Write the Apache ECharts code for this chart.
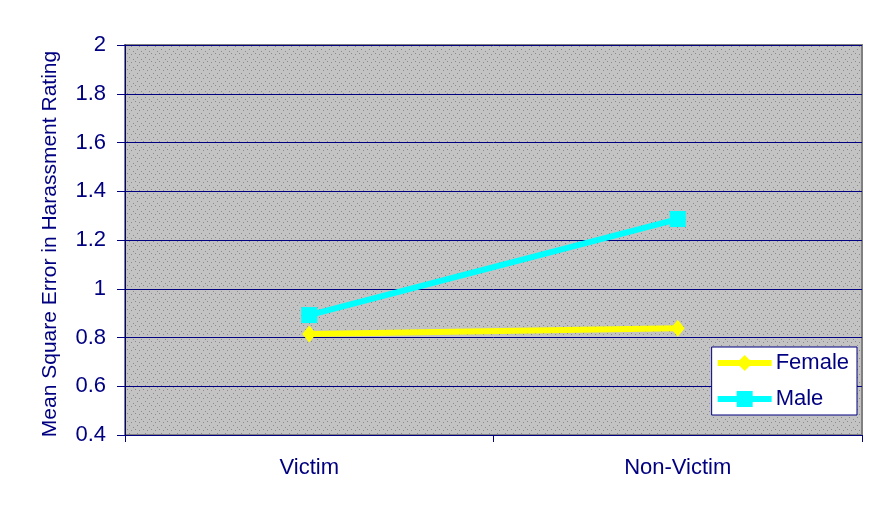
<!DOCTYPE html>
<html><head><meta charset="utf-8">
<script src="https://cdn.jsdelivr.net/npm/echarts@6/dist/echarts.min.js"></script>
<style>html,body{margin:0;padding:0;background:#fff}#c{width:893px;height:515px}</style>
</head><body><div id="c"></div>
<script>
var categories = ['Victim', 'Non-Victim'];
var femaleValues = [0.814, 0.838];
var maleValues = [0.892, 1.286];
var yTicks = { min: 0.4, max: 2, interval: 0.2 };

// dotted grey texture
var pc = document.createElement('canvas');
pc.width = 8; pc.height = 8;
var px = pc.getContext('2d');
px.fillStyle = '#c3c3c3'; px.fillRect(0,0,8,8);
px.fillStyle = '#8a8a8a';
px.fillRect(1,1,1,1); px.fillRect(5,3,1,1); px.fillRect(3,6,1,1); px.fillRect(7,5,1,1);

var navy = '#000080';
var font = 'Liberation Sans';
var chart = echarts.init(document.getElementById('c'));
chart.setOption({
  animation: false,
  backgroundColor: '#ffffff',
  grid: { left: 125, top: 45, width: 737, height: 390, show: true,
          backgroundColor: {image: pc, repeat: 'repeat'}, borderColor: '#808080', borderWidth: 2 },
  legend: {
    right: 36, top: 347, orient: 'vertical', itemWidth: 54, itemHeight: 20, itemGap: 14,
    backgroundColor: '#ffffff', borderColor: navy, borderWidth: 1, padding: [5, 8, 5, 3],
    lineStyle: { width: 6 },
    textStyle: { color: navy, fontFamily: font, fontSize: 22, padding: [0, 0, 0, -1] },
    data: ['Female', 'Male']
  },
  xAxis: {
    type: 'category', data: categories, boundaryGap: true,
    axisLine: { lineStyle: { color: navy, width: 1 } },
    axisTick: { show: true, length: 7, lineStyle: { color: navy } },
    axisLabel: { color: navy, fontFamily: font, fontSize: 22, margin: 22 },
    splitLine: { show: false }
  },
  yAxis: {
    type: 'value', min: yTicks.min, max: yTicks.max, interval: yTicks.interval,
    name: 'Mean Square Error in Harassment Rating', nameLocation: 'middle', nameGap: 64,
    nameTextStyle: { color: navy, fontFamily: font, fontSize: 21, padding: [0, 8, 0, 0] },
    axisLine: { show: true, lineStyle: { color: navy, width: 1 } },
    axisTick: { show: true, length: 8, lineStyle: { color: navy } },
    axisLabel: { color: navy, fontFamily: font, fontSize: 22, margin: 19,
                 formatter: function (v) { return String(Math.round(v * 10) / 10); } },
    splitLine: { show: true, lineStyle: { color: navy, width: 1 } }
  },
  series: [
    { name: 'Female', type: 'line', data: femaleValues, symbol: 'diamond', symbolSize: [14, 17],
      itemStyle: { color: '#ffff00' }, lineStyle: { color: '#ffff00', width: 6 }, z: 3 },
    { name: 'Male', type: 'line', data: maleValues, symbol: 'rect', symbolSize: 16,
      itemStyle: { color: '#00ffff' }, lineStyle: { color: '#00ffff', width: 6 }, z: 3 }
  ]
});
</script></body></html>
